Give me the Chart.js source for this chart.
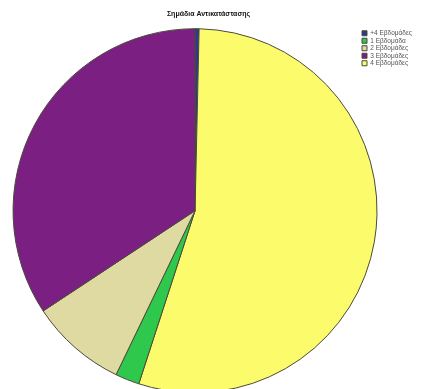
<!DOCTYPE html>
<html>
<head>
<meta charset="utf-8">
<script src="https://cdn.jsdelivr.net/npm/chart.js@4"></script>
<style>
  html, body { margin: 0; padding: 0; background: #ffffff; }
  #wrap { width: 433px; height: 389px; position: relative; }
</style>
</head>
<body>
<div id="wrap"><canvas id="c"></canvas></div>
<script>
// Slices in drawing order, clockwise from 12 o'clock
const categories = ["+4 Εβδομάδες", "4 Εβδομάδες", "1 Εβδομάδα", "2 Εβδομάδες", "3 Εβδομάδες"];
const counts = [1, 153, 6, 24, 96];
const sliceColors = ["#2a3b8f", "#fbfb6c", "#2ec84c", "#dedaa2", "#7b1f82"];
// Order of the entries in the legend (indices into categories)
const legendOrder = [0, 2, 3, 4, 1];
const chartTitle = "Σημάδια Αντικατάστασης";

// Place the legend block and the title where they sit on the page
const placeBlocks = {
  id: "placeBlocks",
  afterLayout(chart) {
    const lg = chart.legend;
    const dx = 361 - lg.left, dy = 29 - lg.top;
    lg.left += dx; lg.right += dx;
    lg.top += dy; lg.bottom += dy;
    const t = chart.titleBlock;
    t.left -= 17; t.right -= 17;
  }
};

new Chart(document.getElementById("c"), {
  type: "pie",
  data: {
    labels: categories,
    datasets: [{
      data: counts,
      backgroundColor: sliceColors,
      borderColor: "#4a4a3a",
      borderWidth: 1,
      radius: 182
    }]
  },
  options: {
    responsive: true,
    maintainAspectRatio: false,
    animation: false,
    layout: { padding: { left: 18, right: 0, top: 0, bottom: 0 } },
    plugins: {
      tooltip: { enabled: false },
      title: {
        display: true,
        text: chartTitle,
        color: "#111111",
        font: { family: "'Liberation Sans', Arial, sans-serif", size: 7, weight: "bold" },
        padding: { top: 10, bottom: 14 }
      },
      legend: {
        position: "right",
        align: "start",
        labels: {
          boxWidth: 5,
          boxHeight: 5,
          padding: 1,
          color: "#555555",
          font: { family: "'Liberation Sans', Arial, sans-serif", size: 6.5 },
          sort: (a, b) => legendOrder.indexOf(a.index) - legendOrder.indexOf(b.index)
        }
      }
    }
  },
  plugins: [placeBlocks]
});
</script>
</body>
</html>
